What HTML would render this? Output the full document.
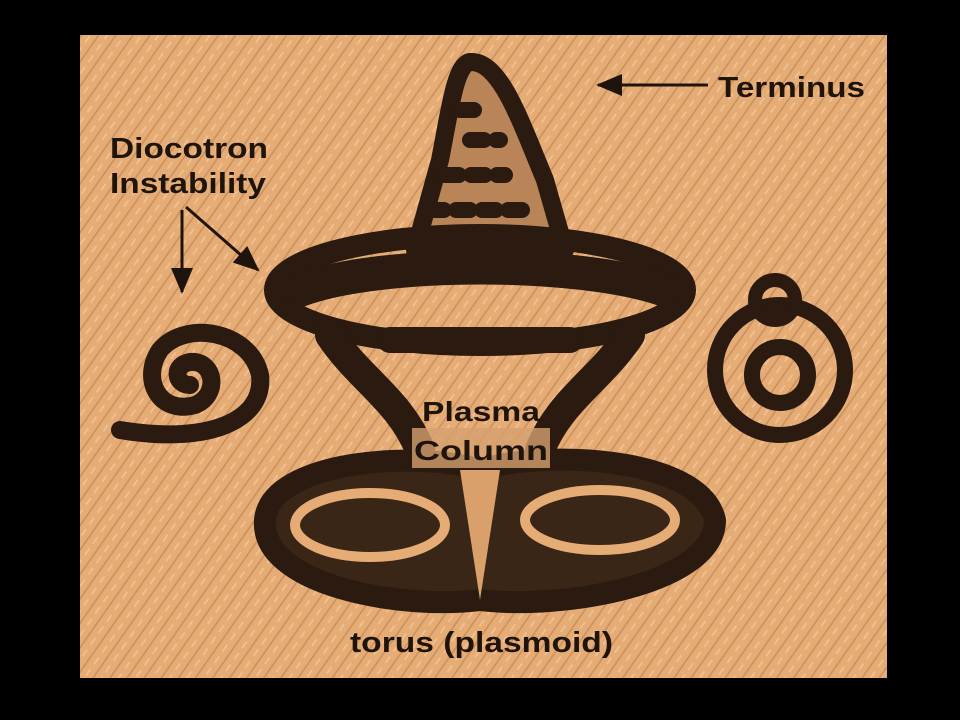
<!DOCTYPE html>
<html><head><style>
body{margin:0;background:#000;width:960px;height:720px;overflow:hidden}
svg{display:block}
text{font-family:"Liberation Sans",sans-serif;font-weight:bold;fill:#1e140c}
</style></head><body>
<svg width="960" height="720" viewBox="0 0 960 720">
<defs>
<pattern id="hatch" width="14" height="14" patternUnits="userSpaceOnUse" patternTransform="rotate(-55)">
<rect width="14" height="14" fill="#e6ac76"/>
<line x1="0" y1="3" x2="14" y2="3" stroke="#c98f5c" stroke-width="1.5"/>
<line x1="0" y1="10" x2="8" y2="10" stroke="#f3c496" stroke-width="1.5"/>
</pattern>
<marker id="ah" markerWidth="26" markerHeight="22" refX="24" refY="11" orient="auto" markerUnits="userSpaceOnUse">
<path d="M0,0 L26,11 L0,22 Z" fill="#1e140c"/></marker>
</defs>
<rect x="80" y="35" width="807" height="643" fill="url(#hatch)"/>
<g fill="none" stroke="#2a1a10" stroke-linecap="round" stroke-linejoin="round">
<path d="M470,62 C500,60 520,120 545,180 L565,250 L415,250 L440,160 C450,110 455,65 470,62 Z" stroke-width="18" fill="#b98558"/>
<path d="M460,110 l20,0 M470,140 l30,0 M445,175 l60,0 M430,210 l100,0" stroke-width="16" stroke-dasharray="14 12"/>
<ellipse cx="480" cy="290" rx="205" ry="55" stroke-width="22"/>
<path d="M300,290 C380,260 580,260 665,290" stroke-width="34"/>
<path d="M330,335 C360,380 400,400 420,450" stroke-width="30"/>
<path d="M630,335 C600,380 560,400 540,450" stroke-width="30"/>
<path d="M390,340 L570,340" stroke-width="26"/>
<path d="M265,520 C270,460 420,450 480,470 C540,450 700,455 715,520 C715,585 560,610 480,600 C400,610 260,585 265,520 Z" stroke-width="22" fill="#3a2616"/>
<ellipse cx="370" cy="525" rx="75" ry="32" stroke-width="10" stroke="#e6ac76"/>
<ellipse cx="600" cy="520" rx="75" ry="30" stroke-width="10" stroke="#e6ac76"/>
<path d="M460,470 L480,600 L500,470 Z" fill="#d9a06c" stroke="none"/>
<path d="M190,385 C175,385 172,365 190,362 C215,360 220,395 195,405 C160,415 140,380 160,350 C185,320 250,330 260,375 C265,420 210,445 120,430" stroke-width="18"/>
<circle cx="780" cy="370" r="65" stroke-width="16"/>
<circle cx="780" cy="375" r="28" stroke-width="16"/>
<circle cx="775" cy="300" r="20" stroke-width="14"/>
</g>
<rect x="412" y="428" width="138" height="40" fill="#d6a070" opacity="0.8"/>
<text x="718" y="97" font-size="29" textLength="147" lengthAdjust="spacingAndGlyphs">Terminus</text>
<line x1="708" y1="85" x2="598" y2="85" stroke="#1e140c" stroke-width="3" marker-end="url(#ah)"/>
<text x="110" y="158" font-size="29" textLength="158" lengthAdjust="spacingAndGlyphs">Diocotron</text>
<text x="110" y="193" font-size="29" textLength="156" lengthAdjust="spacingAndGlyphs">Instability</text>
<line x1="182" y1="210" x2="182" y2="292" stroke="#1e140c" stroke-width="3" marker-end="url(#ah)"/>
<line x1="186" y1="207" x2="258" y2="270" stroke="#1e140c" stroke-width="3" marker-end="url(#ah)"/>
<text x="422" y="421" font-size="28" textLength="118" lengthAdjust="spacingAndGlyphs">Plasma</text>
<text x="414" y="460" font-size="28" textLength="134" lengthAdjust="spacingAndGlyphs">Column</text>
<text x="350" y="652" font-size="29" textLength="263" lengthAdjust="spacingAndGlyphs">torus (plasmoid)</text>
</svg>
</body></html>
